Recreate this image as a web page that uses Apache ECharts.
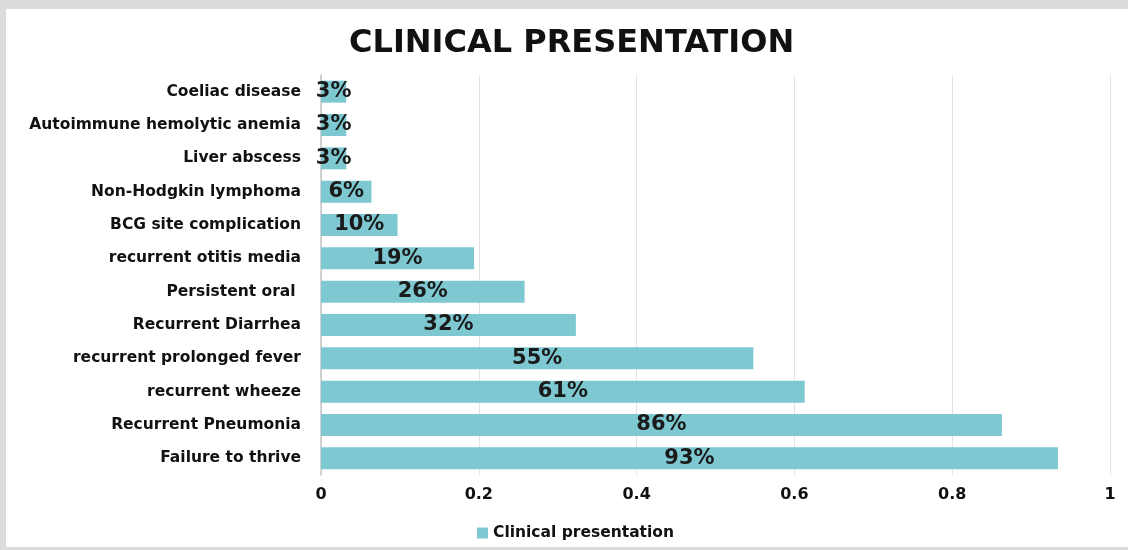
<!DOCTYPE html>
<html>
<head>
<meta charset="utf-8">
<script src="https://cdn.jsdelivr.net/npm/echarts@6/dist/echarts.min.js"></script>
<style>
  html, body { margin: 0; padding: 0; background: #dcdcdc; }
  #panel { position: absolute; left: 6px; top: 9px; width: 1122px; height: 538px; background: #fff; }
  #chart { position: absolute; left: 0; top: 0; width: 1128px; height: 550px; }
</style>
</head>
<body>
<div id="panel"></div>
<div id="chart"></div>
<script>
// top to bottom, as in the picture
var categories = [
  'Coeliac disease',
  'Autoimmune hemolytic anemia',
  'Liver abscess',
  'Non-Hodgkin lymphoma',
  'BCG site complication',
  'recurrent otitis media',
  'Persistent oral ',
  'Recurrent Diarrhea',
  'recurrent prolonged fever',
  'recurrent wheeze',
  'Recurrent Pneumonia',
  'Failure to thrive'
]
var values = [0.032, 0.032, 0.032, 0.064, 0.097, 0.194, 0.258, 0.323, 0.548, 0.613, 0.863, 0.934]
var xTicks = [0, 0.2, 0.4, 0.6, 0.8, 1]

var font = '"DejaVu Sans", sans-serif'
var chart = echarts.init(document.getElementById('chart'))
chart.setOption({
  backgroundColor: 'transparent',
  title: {
    text: 'CLINICAL PRESENTATION',
    left: 344,
    top: 23,
    textStyle: {
      fontFamily: font,
      fontWeight: 'bold',
      fontSize: 32,
      color: '#111'
    }
  },
  legend: {
    bottom: 4,
    left: 472,
    icon: 'rect',
    itemWidth: 11,
    itemHeight: 11,
    itemGap: 6,
    data: ['Clinical presentation'],
    textStyle: {
      fontFamily: font,
      fontWeight: 'bold',
      fontSize: 15.5,
      color: '#111'
    }
  },
  grid: {
    left: 321,
    right: 18,
    top: 75,
    bottom: 75,
    containLabel: false
  },
  xAxis: {
    type: 'value',
    min: 0,
    max: 1,
    interval: 0.2,
    axisLine: { show: false },
    axisTick: { show: false },
    axisLabel: {
      margin: 12,
      fontFamily: font,
      fontWeight: 'bold',
      fontSize: 16,
      color: '#111',
      formatter: function (v) {
        return xTicks.indexOf(v) >= 0 ? String(v) : ''
      }
    },
    splitLine: { lineStyle: { color: '#e2e2e2', width: 1 } }
  },
  yAxis: {
    type: 'category',
    inverse: true,
    data: categories,
    axisLine: { lineStyle: { color: '#c4c4c4', width: 1.5 } },
    axisTick: { show: false },
    axisLabel: {
      margin: 20,
      fontFamily: font,
      fontWeight: 'bold',
      fontSize: 15.5,
      color: '#111'
    }
  },
  series: [{
    name: 'Clinical presentation',
    type: 'bar',
    data: values,
    barWidth: 22,
    itemStyle: { color: '#7ec8d2' },
    label: {
      show: true,
      position: 'inside',
      fontFamily: font,
      fontWeight: 'bold',
      fontSize: 21,
      color: '#1a1a1a',
      formatter: function (p) {
        return Math.round(p.value * 100) + '%'
      }
    }
  }]
})
</script>
</body>
</html>
